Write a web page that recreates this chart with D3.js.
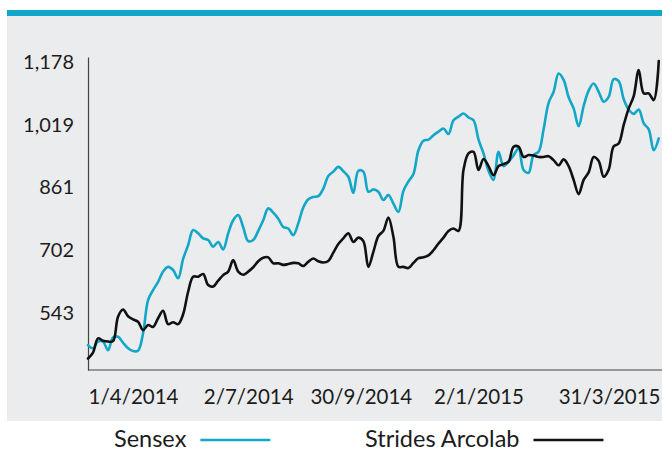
<!DOCTYPE html>
<html>
<head>
<meta charset="utf-8">
<script src="https://cdn.jsdelivr.net/npm/d3@7"></script>
<style>
  body { margin: 0; background: #fff; }
  text { font-family: Lato, sans-serif; fill: #1c1c1c; }
</style>
</head>
<body>
<div id="chart"></div>
<script>
const seriesNames = ['Sensex', 'Strides Arcolab']
const startDate = '2014-02-24'
const endDate = '2015-05-27'
const stepDays = 4
const sensex = [462, 454, 471, 471, 449, 481, 483, 468, 454, 447,
  448, 492, 576, 601, 622, 648, 660, 652, 631, 680,
  715, 753, 745, 732, 728, 711, 723, 704, 745, 778,
  791, 760, 725, 728, 751, 778, 808, 797, 782, 761,
  757, 740, 770, 810, 831, 837, 839, 858, 890, 901,
  913, 902, 888, 847, 903, 901, 850, 856, 850, 829,
  842, 820, 799, 852, 876, 895, 955, 979, 982, 993,
  1002, 1010, 996, 1031, 1040, 1048, 1038, 1031, 982, 947,
  903, 880, 951, 915, 926, 942, 960, 905, 898, 943,
  951, 1008, 1075, 1103, 1149, 1133, 1089, 1061, 1016, 1067,
  1106, 1124, 1103, 1078, 1090, 1135, 1130, 1084, 1058, 1047,
  1058, 1023, 1008, 955, 985]
const strides = [428, 443, 479, 473, 471, 472, 534, 552, 535, 527,
  521, 500, 513, 508, 530, 549, 515, 520, 515, 540,
  597, 635, 635, 642, 614, 610, 625, 639, 648, 677,
  648, 640, 648, 659, 674, 683, 684, 669, 669, 665,
  667, 670, 669, 662, 673, 681, 674, 671, 675, 696,
  718, 732, 745, 723, 734, 725, 660, 698, 738, 751,
  785, 736, 660, 660, 657, 670, 682, 684, 689, 702,
  719, 734, 751, 757, 751, 905, 947, 951, 905, 933,
  915, 892, 915, 920, 926, 964, 964, 938, 943, 942,
  938, 938, 940, 930, 917, 932, 915, 880, 844, 880,
  899, 938, 928, 888, 906, 965, 972, 1019, 1061, 1092,
  1158, 1099, 1099, 1082, 1181]
const yDomain = [399, 1191]
const yTicks = [543, 702, 861, 1019, 1178]
const xTickDates = ['2014-04-01', '2014-07-02', '2014-09-30', '2015-01-02', '2015-03-31']
const xTickLabels = ['1/4/2014', '2/7/2014', '30/9/2014', '2/1/2015', '31/3/2015']

const teal = '#12a7c8'
const ink = '#111111'
let width = 662
let height = 451
let parse = d3.timeParse('%Y-%m-%d')
let t0 = parse(startDate)
let dates = sensex.map((d, i) => d3.timeDay.offset(t0, i * stepDays))

let svg = d3
  .select('#chart')
  .append('svg')
  .attr('width', width)
  .attr('height', height)

/* panel + top rule */
svg
  .append('rect')
  .attr('x', 7)
  .attr('y', 16)
  .attr('width', width - 7)
  .attr('height', 405)
  .attr('fill', '#ebeced')
svg
  .append('rect')
  .attr('x', 7)
  .attr('y', 10)
  .attr('width', width - 7)
  .attr('height', 6)
  .attr('fill', teal)

let x = d3
  .scaleTime()
  .domain([parse(startDate), parse(endDate)])
  .range([88, 660])
let y = d3
  .scaleLinear()
  .domain(yDomain)
  .range([370, 57])

let yAxis = svg
  .append('g')
  .attr('transform', 'translate(88,0)')
  .call(
    d3
      .axisLeft(y)
      .tickValues(yTicks)
      .tickFormat(d3.format(','))
      .tickSize(0)
      .tickPadding(14)
  )
yAxis.select('.domain').attr('stroke', '#444').attr('stroke-width', 1.2)
yAxis
  .selectAll('text')
  .style('font-size', '20px')
  .style('font-family', 'Lato, sans-serif')
  .attr('fill', '#1c1c1c')

let xAxis = svg
  .append('g')
  .attr('transform', 'translate(0,370)')
  .call(
    d3
      .axisBottom(x)
      .tickValues(xTickDates.map(parse))
      .tickFormat((d, i) => xTickLabels[i])
      .tickSize(0)
      .tickPadding(0)
  )
xAxis
  .select('.domain')
  .attr('d', 'M88,0H' + width)
  .attr('stroke', '#444')
  .attr('stroke-width', 1.2)
xAxis
  .selectAll('text')
  .attr('y', 34)
  .attr('dy', 0)
  .style('font-size', '20.5px')
  .style('font-family', 'Lato, sans-serif')
  .attr('fill', '#1c1c1c')
// last label sits flush with the right end of the axis
let lastTick = parse(xTickDates[xTickDates.length - 1])
xAxis
  .selectAll('.tick')
  .filter((d, i) => i === xTickDates.length - 1)
  .select('text')
  .attr('text-anchor', 'end')
  .attr('x', x.range()[1] - x(lastTick))

let line = d3
  .line()
  .x((d, i) => x(dates[i]))
  .y(d => y(d))
  .curve(d3.curveCatmullRom.alpha(0.5))

let series = [
  { name: seriesNames[0], values: sensex, color: teal },
  { name: seriesNames[1], values: strides, color: ink }
]

svg
  .selectAll('.series')
  .data(series)
  .enter()
  .append('path')
  .attr('class', 'series')
  .attr('d', d => line(d.values))
  .attr('fill', 'none')
  .attr('stroke', d => d.color)
  .attr('stroke-width', 2.6)
  .attr('stroke-linejoin', 'round')
  .attr('stroke-linecap', 'round')

/* legend */
let legendX = [114, 365]
let legend = svg
  .selectAll('.legend')
  .data(series)
  .enter()
  .append('g')
  .attr('class', 'legend')
  .attr('transform', (d, i) => 'translate(' + legendX[i] + ',447)')
legend
  .append('text')
  .style('font-size', '23.5px')
  .text(d => d.name)
legend.each(function(d) {
  let g = d3.select(this)
  let w = g.select('text').node().getComputedTextLength()
  g.append('line')
    .attr('x1', w + 14)
    .attr('x2', w + 84)
    .attr('y1', -7)
    .attr('y2', -7)
    .attr('stroke', d.color)
    .attr('stroke-width', 2.6)
})
</script>
</body>
</html>
